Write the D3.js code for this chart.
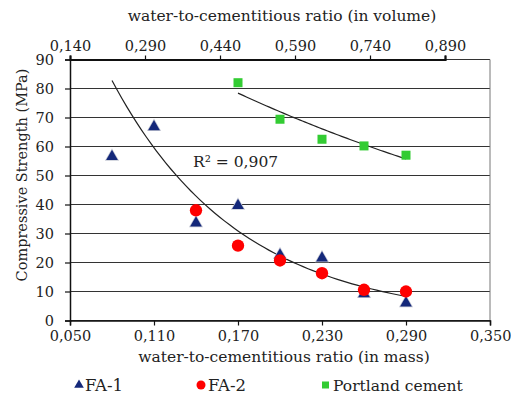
<!DOCTYPE html>
<html>
<head>
<meta charset="utf-8">
<script src="https://cdn.jsdelivr.net/npm/d3@7"></script>
<style>
  body { margin: 0; background: #fff; }
  svg text { font-family: "DejaVu Serif", serif; fill: #222; }
</style>
</head>
<body>
<div id="chart"></div>
<script>
// mass ratios where the samples sit
var fa1X = [0.080, 0.110, 0.140, 0.170, 0.200, 0.230, 0.260, 0.290];
var fa1Y = [56.5, 66.8, 33.6, 39.6, 22.6, 21.5, 9.2, 6.0];
var fa2X = [0.140, 0.170, 0.200, 0.230, 0.260, 0.290];
var fa2Y = [38.0, 25.8, 20.7, 16.3, 10.6, 10.0];
var pcX = [0.170, 0.200, 0.230, 0.260, 0.290];
var pcY = [82.0, 69.4, 62.5, 60.2, 57.0];

// exponential trendlines y = a * exp(b * x)
var fa1Trend = { a: 198.7, b: -10.95, from: 0.080, to: 0.290 };
var pcTrend = { a: 127.3, b: -2.85, from: 0.170, to: 0.290 };
var r2Label = "R² = 0,907";

var massTicks = [0.05, 0.11, 0.17, 0.23, 0.29, 0.35];
var volumeTicks = [0.14, 0.29, 0.44, 0.59, 0.74, 0.89];
var yTicks = [0, 10, 20, 30, 40, 50, 60, 70, 80, 90];

var width = 511, height = 402;
var plotLeft = 70, plotRight = 490, plotTop = 59.5, plotBottom = 320.5;
var serif = '"DejaVu Serif", serif';

var svg = d3.select("#chart").append("svg")
    .attr("width", width)
    .attr("height", height);

var x = d3.scaleLinear().domain([0.05, 0.35]).range([plotLeft, plotRight]);
var xTop = d3.scaleLinear().domain([0.14, 0.89]).range([plotLeft, 445]);
var y = d3.scaleLinear().domain([0, 90]).range([plotBottom, plotTop]);
var fmt = function (d) { return d3.format(".3f")(d).replace(".", ","); };

// gridlines
svg.append("g").selectAll("line").data(yTicks).enter().append("line")
    .attr("x1", plotLeft).attr("x2", plotRight)
    .attr("y1", d => y(d)).attr("y2", d => y(d))
    .attr("stroke", "#333").attr("stroke-width", 1.2);

// frame on the right
svg.append("line").attr("x1", plotRight).attr("x2", plotRight).attr("y1", plotTop).attr("y2", plotBottom)
    .attr("stroke", "#777").attr("stroke-width", 1);

var xAxis = d3.axisBottom(x).tickValues(massTicks).tickFormat(fmt).tickSize(5).tickPadding(5);
var gx = svg.append("g").attr("transform", `translate(0, ${plotBottom})`).call(xAxis);

var xTopAxis = d3.axisTop(xTop).tickValues(volumeTicks).tickFormat(fmt).tickSize(4).tickPadding(5);
var gt = svg.append("g").attr("transform", `translate(0, ${plotTop})`).call(xTopAxis);

var yAxis = d3.axisLeft(y).tickValues(yTicks).tickSize(5).tickPadding(11);
var gy = svg.append("g").attr("transform", `translate(${plotLeft}, 0)`).call(yAxis);

[gx, gt, gy].forEach(function (g) {
    g.attr("font-family", serif);
    g.selectAll("path").attr("stroke", "#111").attr("stroke-width", 1.5);
    g.selectAll("line").attr("stroke", "#111").attr("stroke-width", 1.2);
    g.selectAll("text").style("font-size", "14.5px").attr("fill", "#333");
});
gt.select("path").attr("stroke-width", 2.2);
// last mass label sits against the right edge
gx.selectAll("text").filter(d => d === 0.35).attr("text-anchor", "end").attr("x", 21);

// trendlines
function trendPoints(t) {
    return d3.range(0, 61).map(function (i) {
        var xv = t.from + (t.to - t.from) * i / 60;
        return [xv, t.a * Math.exp(t.b * xv)];
    });
}
var line = d3.line().x(d => x(d[0])).y(d => y(d[1]));
svg.append("path").attr("d", line(trendPoints(fa1Trend)))
    .attr("fill", "none").attr("stroke", "#222").attr("stroke-width", 1.2);
svg.append("path").attr("d", line(trendPoints(pcTrend)))
    .attr("fill", "none").attr("stroke", "#222").attr("stroke-width", 1.2);

// markers
var tri = d3.symbol().type(d3.symbolTriangle).size(60);
var circ = d3.symbol().type(d3.symbolCircle).size(120);

svg.append("g").selectAll("path").data(fa1X).enter().append("path")
    .attr("d", tri)
    .attr("transform", (d, i) => `translate(${x(d)}, ${y(fa1Y[i])})`)
    .attr("fill", "#14287a").attr("stroke", "#c8cbd6").attr("stroke-width", 1.5)
    .attr("paint-order", "stroke");

svg.append("g").selectAll("path").data(fa2X).enter().append("path")
    .attr("d", circ)
    .attr("transform", (d, i) => `translate(${x(d)}, ${y(fa2Y[i])})`)
    .attr("fill", "#ff0000");

svg.append("g").selectAll("rect").data(pcX).enter().append("rect")
    .attr("x", d => x(d) - 4.5).attr("y", (d, i) => y(pcY[i]) - 4.5)
    .attr("width", 9).attr("height", 9)
    .attr("fill", "#33cc33");

svg.append("text").attr("x", 193).attr("y", 167)
    .style("font-size", "15.5px").text(r2Label);

// axis titles
svg.append("text").attr("x", 282).attr("y", 21).attr("text-anchor", "middle")
    .style("font-size", "15.5px").text("water-to-cementitious ratio (in volume)");
svg.append("text").attr("x", 284).attr("y", 362).attr("text-anchor", "middle")
    .style("font-size", "15.5px").text("water-to-cementitious ratio (in mass)");
svg.append("text").attr("transform", "translate(27, 175) rotate(-90)").attr("text-anchor", "middle")
    .style("font-size", "14.5px").text("Compressive Strength (MPa)");

// legend
var legend = svg.append("g").attr("transform", "translate(0, 385)");
legend.append("path").attr("d", d3.symbol().type(d3.symbolTriangle).size(40))
    .attr("transform", "translate(79, 0)").attr("fill", "#14287a");
legend.append("text").attr("x", 85).attr("y", 6).style("font-size", "16.5px").text("FA-1");
legend.append("circle").attr("cx", 201).attr("cy", 0).attr("r", 4.5).attr("fill", "#ff0000");
legend.append("text").attr("x", 208).attr("y", 6).style("font-size", "16.5px").text("FA-2");
legend.append("rect").attr("x", 322).attr("y", -3.5).attr("width", 7).attr("height", 7).attr("fill", "#33cc33");
legend.append("text").attr("x", 333).attr("y", 6).style("font-size", "15.5px").text("Portland cement");
</script>
</body>
</html>
